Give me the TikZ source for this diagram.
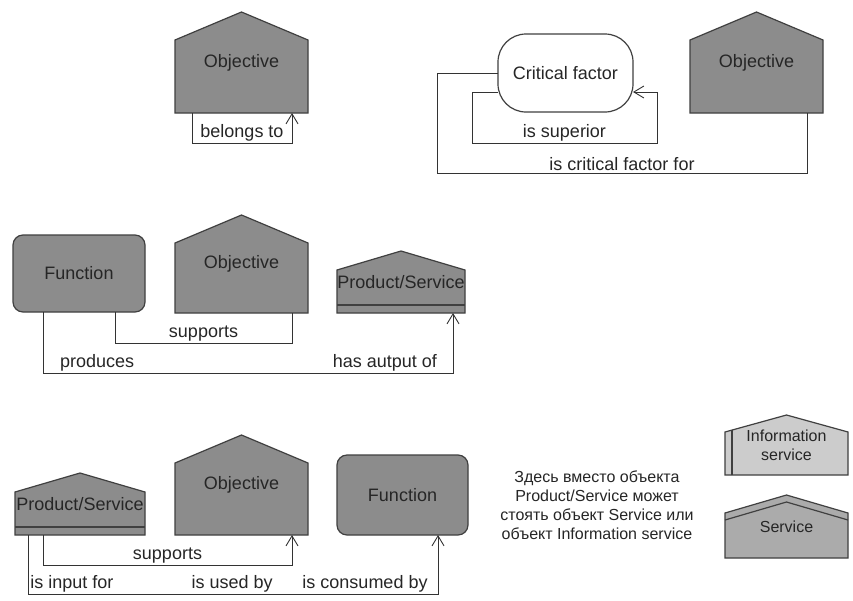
\documentclass[tikz,border=0pt]{standalone}
\usepackage{fontspec}
\setmainfont{Liberation Sans}
\usetikzlibrary{arrows.meta,backgrounds}
\tikzset{
  shapeline/.style={draw=black!75, line width=1.2pt},
  darkfill/.style={shapeline, fill=black!45},
  lightfill/.style={shapeline, fill=black!20},
  midfill/.style={shapeline, fill=black!33},
  box/.style={inner sep=0pt, outer sep=0pt, text=black!85, font=\fontsize{18}{20}\selectfont},
  smallbox/.style={box, font=\fontsize{16}{19}\selectfont},
  conn/.style={draw=black!80, line width=0.9pt},
  arr/.style={-{Straight Barb[length=10pt,width=12pt,line width=0.9pt]}},
  lbl/.style={above, inner sep=1.5pt, text=black!85, font=\fontsize{18}{20}\selectfont},
}
\newcommand{\housepath}[3]{%
  \begin{pgfonlayer}{background}
    \path[#3] (#1.south west) -- ([yshift=-#2]#1.north west) -- (#1.north)
      -- ([yshift=-#2]#1.north east) -- (#1.south east) -- cycle;
  \end{pgfonlayer}}
\begin{document}
\begin{tikzpicture}[x=1pt,y=-1pt]
\useasboundingbox (0,0) rectangle (853,600);
\begin{pgfonlayer}{background}
  \fill[white] (0,0) rectangle (853,600);
\end{pgfonlayer}

% ---- top row ----
\node[box,minimum width=133pt,minimum height=101pt] (obj1) at (241.5,62.5) {Objective};
\housepath{obj1}{28pt}{darkfill}
\node[box,minimum width=133pt,minimum height=101pt] (obj2) at (756.5,62.5) {Objective};
\housepath{obj2}{28pt}{darkfill}
\node[box,shapeline,fill=white,rounded corners=28pt,minimum width=135pt,minimum height=78pt] (cf) at (565.5,73) {Critical factor};

% ---- middle row ----
\node[box,darkfill,rounded corners=10pt,minimum width=132pt,minimum height=77pt] (fn1) at (79,273.5) {Function};
\node[box,minimum width=133pt,minimum height=98pt] (obj3) at (241.5,264) {Objective};
\housepath{obj3}{28pt}{darkfill}
\node[box,minimum width=128pt,minimum height=62pt] (ps1) at (401,282) {Product/Service};
\housepath{ps1}{19pt}{darkfill}
\draw[shapeline] ([yshift=8pt]ps1.south west) -- ([yshift=8pt]ps1.south east);

% ---- bottom row ----
\node[box,minimum width=130pt,minimum height=62pt] (ps2) at (80,504) {Product/Service};
\housepath{ps2}{19pt}{darkfill}
\draw[shapeline] ([yshift=8pt]ps2.south west) -- ([yshift=8pt]ps2.south east);
\node[box,minimum width=133pt,minimum height=100pt] (obj4) at (241.5,485) {Objective};
\housepath{obj4}{28pt}{darkfill}
\node[box,darkfill,rounded corners=10pt,minimum width=131pt,minimum height=80pt] (fn2) at (402.5,495) {Function};

% ---- legend ----
\node[smallbox,align=center] (note) at (597,505) {Здесь вместо объекта\\Product/Service может\\стоять объект Service или\\объект Information service};
\node[smallbox,align=center,minimum width=123pt,minimum height=60pt] (info) at (786.5,445) {Information\\service};
\housepath{info}{17pt}{lightfill}
\draw[shapeline] ([xshift=7pt]info.south west) -- ([xshift=7pt,yshift=-15pt]info.north west);
\node[smallbox,minimum width=123pt,minimum height=63pt] (svc) at (786.5,526.5) {Service};
\housepath{svc}{18pt}{midfill}
\draw[shapeline] ([yshift=-25pt]svc.north west) -- ([yshift=-7pt]svc.north) -- ([yshift=-25pt]svc.north east);

% ---- connectors ----
\coordinate (o1a) at ([xshift=17pt]obj1.south west);
\coordinate (o1b) at ([xshift=-16pt]obj1.south east);
\coordinate (lv1) at (0,143);
\draw[conn,arr] (o1a) -- (o1a |- lv1) -- node[lbl] (t1) {belongs to} (o1b |- lv1) -- (o1b);

\coordinate (cfa) at ([yshift=-19pt]cf.west);
\coordinate (cfb) at ([yshift=-19pt]cf.east);
\coordinate (supL) at (472,143);
\coordinate (supR) at (657,143);
\draw[conn,arr] (cfa) -| (supL) -- node[lbl] (t2) {is superior} (supR) |- (cfb);

\coordinate (crL) at (437,173);
\coordinate (o2a) at ([xshift=-16pt]obj2.south east);
\draw[conn] (cf.west) -| (crL) -- node[lbl] (t3) {is critical factor for} (o2a |- crL) -- (o2a);

\coordinate (f1a) at ([xshift=-30pt]fn1.south east);
\coordinate (o3a) at ([xshift=-16pt]obj3.south east);
\coordinate (lv4) at (0,343);
\draw[conn] (f1a) -- (f1a |- lv4) -- node[lbl] (t4) {supports} (o3a |- lv4) -- (o3a);

\coordinate (f1b) at ([xshift=30pt]fn1.south west);
\coordinate (p1a) at ([xshift=-12pt]ps1.south east);
\coordinate (lv5) at (0,373);
\draw[conn,arr] (f1b) -- (f1b |- lv5) -- node[lbl,pos=0.132] (t5) {produces} node[lbl,pos=0.834] (t6) {has autput of} (p1a |- lv5) -- (p1a);

\coordinate (p2a) at ([xshift=28pt]ps2.south west);
\coordinate (o4a) at ([xshift=-16pt]obj4.south east);
\coordinate (lv6) at (0,565);
\draw[conn,arr] (p2a) -- (p2a |- lv6) -- node[lbl] (t7) {supports} (o4a |- lv6) -- (o4a);

\coordinate (p2b) at ([xshift=13pt]ps2.south west);
\coordinate (f2a) at ([xshift=-30pt]fn2.south east);
\coordinate (lv7) at (0,594);
\draw[conn,arr] (p2b) -- (p2b |- lv7) -- node[lbl,pos=0.107] (t8) {is input for} node[lbl,pos=0.498] (t9) {is used by} node[lbl,pos=0.822] (t10) {is consumed by} (f2a |- lv7) -- (f2a);
\end{tikzpicture}
\end{document}
